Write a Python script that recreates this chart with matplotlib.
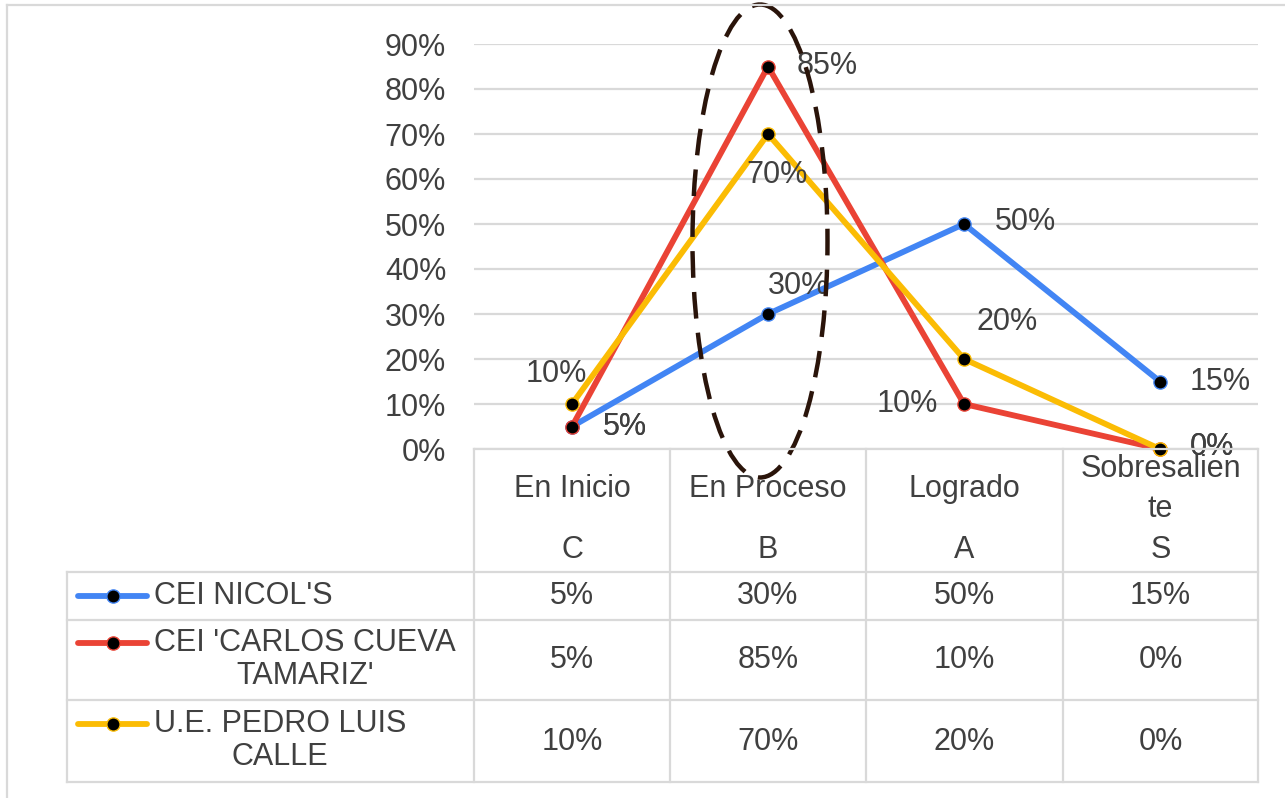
import matplotlib
matplotlib.use("Agg")
import matplotlib.pyplot as plt
from matplotlib.patches import Ellipse

# data
categories = ["En Inicio", "En Proceso", "Logrado", "Sobresalien\nte"]
letters = ["C", "B", "A", "S"]
series_names = ["CEI NICOL'S", "CEI 'CARLOS CUEVA\nTAMARIZ'", "U.E. PEDRO LUIS\nCALLE"]
nicols = [0.05, 0.30, 0.50, 0.15]
carlos = [0.05, 0.85, 0.10, 0.00]
pedro = [0.10, 0.70, 0.20, 0.00]
yticks = [0.0, 0.1, 0.2, 0.3, 0.4, 0.5, 0.6, 0.7, 0.8, 0.9]

BLUE = "#4285F4"
RED = "#EA4335"
YELLOW = "#FBBC04"
GRID = "#D9D9D9"
TXT = "#404040"
W, H = 1285, 798

plt.rcParams["font.family"] = ["Liberation Sans", "DejaVu Sans"]
FS = 22
LW = 4.2
MS = 9.5


def pct(v):
    return f"{int(round(v * 100))}%"


fig = plt.figure(figsize=(W / 100, H / 100), dpi=100)

# plot area in pixels: x 474..1258, y 44 (90%)..449 (0%)
ax = fig.add_axes([474 / W, 1 - 449 / H, (1258 - 474) / W, (449 - 44) / H])
ax.set_zorder(1)
ax.set_xlim(0, 4)
ax.set_ylim(0, 0.9)
ax.set_yticks(yticks)
ax.set_yticklabels([pct(v) for v in yticks])
ax.set_xticks([])
ax.tick_params(axis="y", length=0, pad=20, labelsize=FS, labelcolor=TXT)
ax.grid(axis="y", color=GRID, lw=1.6)
for s in ax.spines.values():
    s.set_visible(False)
ax.set_facecolor("none")

xs = [i + 0.5 for i in range(len(categories))]
colors = [BLUE, RED, YELLOW]
all_series = [nicols, carlos, pedro]
for vals, col, z in zip(all_series, colors, (3, 4, 5)):
    ax.plot(xs, vals, color=col, lw=LW, marker="o", ms=MS, mfc="black",
            mec=col, mew=1.0, zorder=z, clip_on=False, solid_capstyle="round")

# data labels: (dx, dy) offsets in pixels, alignment
offsets = [
    [(31, 0, "left"), (0, 28, "left"), (31, 2, "left"), (30, 0, "left")],
    [(31, 0, "left"), (29, 0, "left"), (-26, 0, "right"), (30, 2, "left")],
    [(-16, 30, "center"), (9, -41, "center"), (43, 37, "center"), (30, 2, "left")],
]
for vals, offs in zip(all_series, offsets):
    for x, v, (dx, dy, ha) in zip(xs, vals, offs):
        ax.annotate(pct(v), (x, v), xytext=(dx, dy),
                    textcoords="offset pixels", ha=ha, va="center",
                    fontsize=FS, color=TXT, zorder=6, annotation_clip=False)

# overlay in pixel coordinates for the data table and frame
ov = fig.add_axes([0, 0, 1, 1])
ov.set_zorder(2)
ov.set_xlim(0, W)
ov.set_ylim(H, 0)
ov.axis("off")

# outer chart frame (top and left visible)
ov.plot([7, W], [5, 5], color=GRID, lw=1.6)
ov.plot([7, 7], [5, H], color=GRID, lw=1.6)

col_x = [474, 670, 866, 1063, 1258]
row_y = [572, 620, 700, 782]
for x in col_x:
    ov.plot([x, x], [449, 782], color=GRID, lw=1.6)
ov.plot([474, 1258], [449, 449], color=GRID, lw=1.6)
for y in row_y:
    ov.plot([67, 1258], [y, y], color=GRID, lw=1.6)
ov.plot([67, 67], [572, 782], color=GRID, lw=1.6)

centers = [(col_x[i] + col_x[i + 1]) / 2 for i in range(4)]
for cx, name, let in zip(centers, categories, letters):
    ov.text(cx, 489, name, ha="center", va="center", fontsize=FS, color=TXT,
            linespacing=1.45)
    ov.text(cx, 550, let, ha="center", va="center", fontsize=FS, color=TXT)

row_centers = [596, 660, 742]
name_top = [596, 643, 724]
for i, (name, vals, col) in enumerate(zip(series_names, all_series, colors)):
    ov.plot([78, 147], [name_top[i], name_top[i]], color=col, lw=LW,
            solid_capstyle="round")
    ov.plot([113], [name_top[i]], marker="o", ms=MS, mfc="black", mec=col,
            mew=1.0)
    if "\n" in name:
        ov.text(154, name_top[i] - 15, name, ha="left", va="top", fontsize=FS,
                color=TXT, multialignment="center", linespacing=1.15)
    else:
        ov.text(154, name_top[i], name, ha="left", va="center", fontsize=FS,
                color=TXT)
    for cx, v in zip(centers, vals):
        ov.text(cx, row_centers[i], pct(v), ha="center", va="center",
                fontsize=FS, color=TXT)

# dashed ellipse highlighting "En Proceso"
ov.add_patch(Ellipse((760, 241), 135, 473, fill=False, ec="#2A140A", lw=3.2,
                     ls=(0, (6, 3.2))))

fig.savefig("out.png", dpi=100, facecolor="white")
